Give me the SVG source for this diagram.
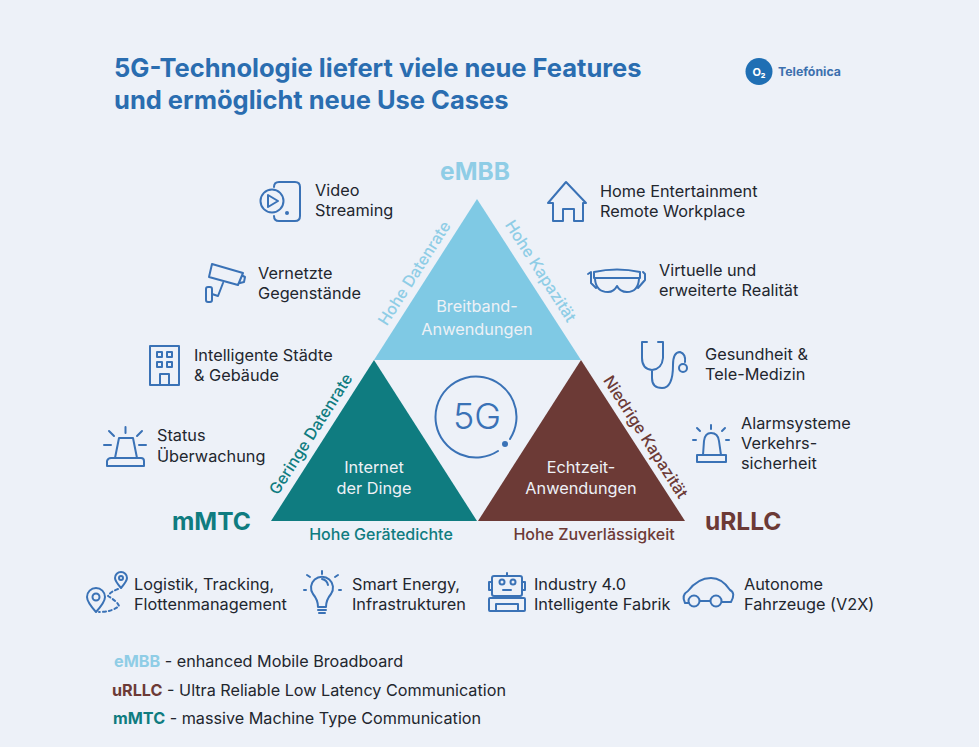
<svg xmlns="http://www.w3.org/2000/svg" width="979" height="747" viewBox="0 0 979 747">
<style>
text{font-family:Inter,"Liberation Sans",sans-serif}
.t{font-size:16.3px;fill:#22262e}
.title{font-size:25.500px;font-weight:700;fill:#2a6db0}
.w{font-size:16.300px;fill:#eef1f6;text-anchor:middle}
.i{fill:none;stroke:#3a72b6;stroke-width:2;stroke-linecap:round;stroke-linejoin:round}
.big{font-size:24.500px;font-weight:700}
.s{font-size:16px;font-weight:500}
.l{font-size:16.200px;fill:#22262e}
.lb{font-weight:700}
</style>
<rect width="979" height="747" fill="#edf1f8"/>
<g id="title"><text class="title" x="114" y="77">5G-Technologie liefert viele neue Features</text><text class="title" x="114" y="109">und ermöglicht neue Use Cases</text></g>
<g id="logo"><circle cx="759" cy="71.500" r="13.500" fill="#1f6fb4"/><text x="759" y="76" font-size="11" font-weight="700" fill="#fff" text-anchor="middle">O₂</text><text x="778" y="76" font-size="12.300" font-weight="700" fill="#3c70ae">Telefónica</text></g>
<g id="triangle-embb"><polygon points="477,199 374,360 581,360" fill="#7fc9e4"/><text class="w" x="477" y="312">Breitband-</text><text class="w" x="477" y="335">Anwendungen</text></g>
<g id="triangle-mmtc"><polygon points="374,360 271,521 477,521" fill="#0f7c80"/><text class="w" x="374" y="473">Internet</text><text class="w" x="374" y="494">der Dinge</text></g>
<g id="triangle-urllc"><polygon points="581,360 478,521 685,521" fill="#6c3a36"/><text class="w" x="581" y="473">Echtzeit-</text><text class="w" x="581" y="494">Anwendungen</text></g>
<g id="side-labels">
<text class="s" fill="#8fcde6" text-anchor="middle" transform="translate(419 276) rotate(-57.400)">Hohe Datenrate</text>
<text class="s" fill="#8fcde6" text-anchor="middle" transform="translate(536 274) rotate(57.400)">Hohe Kapazität</text>
<text class="s" fill="#0f7c80" text-anchor="middle" transform="translate(315.500 437) rotate(-57.400)">Geringe Datenrate</text>
<text class="s" fill="#6c3a36" text-anchor="middle" transform="translate(641 440) rotate(57.400)">Niedrige Kapazität</text>
<text class="s" fill="#0f7c80" text-anchor="middle" x="381" y="540">Hohe Gerätedichte</text>
<text class="s" fill="#6c3a36" text-anchor="middle" x="594" y="540">Hohe Zuverlässigkeit</text>
</g>
<g id="corner-labels"><text class="big" fill="#8fcde6" text-anchor="middle" x="475" y="180">eMBB</text><text class="big" fill="#0f7c80" x="172" y="530">mMTC</text><text class="big" fill="#6c3a36" x="705" y="530">uRLLC</text></g>
<g id="center-5g"><path class="i" d="M510,439 A40.500,40.500 0 1 0 498,451"/><circle cx="505" cy="444" r="3" fill="#3a72b6"/><text x="477" y="429" font-size="36" font-weight="300" fill="#3a72b6" text-anchor="middle">5G</text></g>
<g id="video"><path class="i" d="M274,187 Q274,182 279,182 H295 Q300,182 300,187 V216 Q300,221 295,221 H279 Q274,221 274,216"/><circle class="i" cx="272" cy="201" r="11.500" style="fill:#edf1f8"/><path class="i" d="M268,195 L278,201 L268,207 Z"/><circle cx="287" cy="213" r="2" fill="#3a72b6"/><text class="t" x="315" y="196">Video</text><text class="t" x="315" y="216">Streaming</text></g>
<g id="camera"><path class="i" d="M212,264 L243,273 L238,285 L209,277 Z M243,276 L245,277 L244,282 L240,283 M223,283 L218,296 L212,294"/><rect class="i" x="206" y="287" width="6" height="15" rx="2"/><text class="t" x="258" y="279">Vernetzte</text><text class="t" x="258" y="299">Gegenstände</text></g>
<g id="building"><rect class="i" x="150" y="346" width="29" height="39"/><path class="i" d="M157,352h5v5h-5zM167,352h5v5h-5zM157,362h5v5h-5zM167,362h5v5h-5zM160,385v-11h9v11"/><text class="t" x="194" y="361">Intelligente Städte</text><text class="t" x="194" y="381">&amp; Gebäude</text></g>
<g id="status"><path class="i" d="M119,438 H133 L137,458 H115 Z M107,466 V461 Q108,458 111,458 H141 Q144,458 144,461 V466 Z M104,445 H111 M139,445 H146 M125.500,427 V433 M109,431 L114,436 M142,431 L137,436" stroke-width="2.400"/><text class="t" x="157" y="441">Status</text><text class="t" x="157" y="462">Überwachung</text></g>
<g id="home"><path class="i" d="M566,182 L548,203 H553 V221 H563 V209 H574 V221 H583 V203 H586 Z"/><text class="t" x="600" y="197">Home Entertainment</text><text class="t" x="600" y="217">Remote Workplace</text></g>
<g id="vr"><path class="i" d="M594,272 Q617,267 640,272 V278 H594 Z M595,279 Q596,292 608,292 Q614,292 617,286 Q620,292 627,292 Q638,292 639,279 M588,274 L591,272 V283 L596,288 M643,272 L645,274 V280 L638,288"/><text class="t" x="659" y="276">Virtuelle und</text><text class="t" x="659" y="296">erweiterte Realität</text></g>
<g id="stethoscope"><path class="i" d="M647,342 H642 V358 Q642,369 652,370 Q662,369 663,358 V342 H658 M652,370 V378 Q652,388 662,388 Q673,388 673,365 Q673,352 680,352 Q686,354 685,362"/><circle class="i" cx="683" cy="368" r="4"/><text class="t" x="705" y="360">Gesundheit &amp;</text><text class="t" x="705" y="380">Tele-Medizin</text></g>
<g id="alarm"><path class="i" d="M703,455 L704,441 Q705,433 711,433 Q718,433 719,441 L721,455 M697,455 H726 V462 H697 Z M711,425 V429 M697,428 L700,431 M725,428 L722,431 M693,440 H696 M726,440 H729"/><text class="t" x="741" y="429">Alarmsysteme</text><text class="t" x="741" y="449">Verkehrs-</text><text class="t" x="741" y="469">sicherheit</text></g>
<g id="logistik"><path class="i" d="M96,612 Q87,602 87,597 A9,9 0 0 1 105,597 Q105,602 96,612 Z"/><circle class="i" cx="96" cy="597" r="3.500"/><path class="i" d="M121,588 Q115,581 115,578 A6,6 0 0 1 127,578 Q127,581 121,588 Z"/><circle class="i" cx="121" cy="578" r="2"/><path class="i" stroke-dasharray="3 3" d="M118,589 Q110,592 108,596 Q118,602 119,606 Q112,612 99,612"/><text class="t" x="134" y="590">Logistik, Tracking,</text><text class="t" x="134" y="610">Flottenmanagement</text></g>
<g id="energy"><path class="i" d="M318,607 Q318,600 313,594 A11,11 0 1 1 331,594 Q326,600 326,607 Z M318,610 H326 M319,613 H325 M328,585 Q327,580 322,579 M322,574 V571 M310,577 L307,575 M335,577 L338,575 M306,590 H304 M339,590 H341"/><text class="t" x="352" y="590">Smart Energy,</text><text class="t" x="352" y="610">Infrastrukturen</text></g>
<g id="robot"><rect class="i" x="492" y="576" width="30" height="20" rx="2"/><circle class="i" cx="502" cy="582" r="2.500"/><circle class="i" cx="513" cy="582" r="2.500"/><path class="i" d="M503,590 H511 M507,576 V573 M492,582 H489 V590 H492 M522,582 H525 V590 H522"/><rect class="i" x="489" y="598" width="36" height="13" rx="1"/><path class="i" d="M496,611 V604 H518 V611"/><text class="t" x="534" y="590">Industry 4.0</text><text class="t" x="534" y="610">Intelligente Fabrik</text></g>
<g id="car"><path class="i" d="M689,603 H685 Q681,595 688,591 Q698,578 711,578 Q722,578 730,590 Q736,593 731,602 H722 M700,601 H710"/><circle class="i" cx="694" cy="601" r="5.500"/><circle class="i" cx="716" cy="601" r="5.500"/><text class="t" x="744" y="590">Autonome</text><text class="t" x="744" y="610">Fahrzeuge (V2X)</text></g>
<g id="legend">
<text class="l" x="114" y="667"><tspan class="lb" fill="#8fcde6">eMBB</tspan> - enhanced Mobile Broadboard</text>
<text class="l" x="112" y="696"><tspan class="lb" fill="#6c3a36">uRLLC</tspan> - Ultra Reliable Low Latency Communication</text>
<text class="l" x="113" y="724"><tspan class="lb" fill="#0f7c80">mMTC</tspan> - massive Machine Type Communication</text>
</g>
</svg>
